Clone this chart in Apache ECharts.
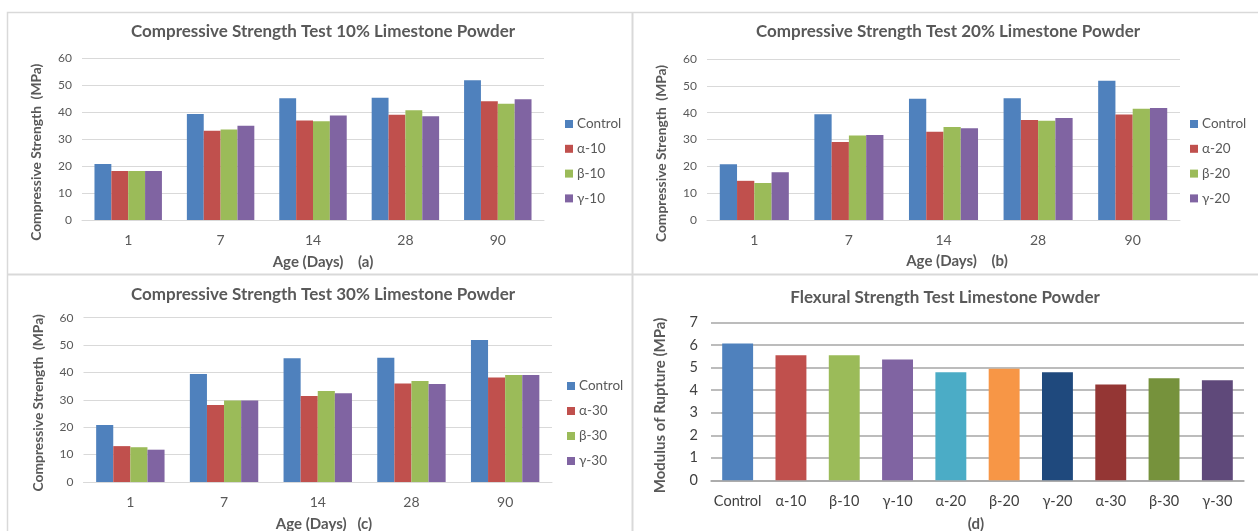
<!DOCTYPE html>
<html>
<head>
<meta charset="utf-8">
<script src="https://cdn.jsdelivr.net/npm/echarts@6/dist/echarts.min.js"></script>
<style>
html,body{margin:0;padding:0;background:#fff;}
#c{width:1258px;height:531px;}
</style>
</head>
<body>
<div id="c"></div>
<script>
// ---- data ----
const ages = ['1', '7', '14', '28', '90'];
const yTicks = [0, 10, 20, 30, 40, 50, 60];
const control = [20.8, 39.4, 45.2, 45.4, 51.9];
const a10 = [18.2, 33.2, 37.0, 39.1, 44.1];
const b10 = [18.2, 33.6, 36.7, 40.8, 43.2];
const g10 = [18.2, 35.0, 38.8, 38.5, 44.9];
const a20 = [14.6, 29.1, 32.9, 37.3, 39.3];
const b20 = [13.8, 31.5, 34.7, 37.0, 41.5];
const g20 = [17.8, 31.7, 34.2, 38.0, 41.7];
const a30 = [13.1, 28.1, 31.4, 36.0, 38.2];
const b30 = [12.7, 29.8, 33.2, 36.9, 39.1];
const g30 = [11.8, 29.8, 32.4, 35.8, 39.1];
const flexCats = ['Control', 'α-10', 'β-10', 'γ-10', 'α-20', 'β-20', 'γ-20', 'α-30', 'β-30', 'γ-30'];
const flexVals = [6.08, 5.55, 5.55, 5.37, 4.80, 4.96, 4.80, 4.26, 4.53, 4.44];
const flexTicks = [0, 1, 2, 3, 4, 5, 6, 7];

// ---- styles ----
const FONT = 'Lato, "Open Sans", sans-serif';
const TXT = '#595959';
const GRID = '#d9d9d9';
const C4 = ['#4F81BD', '#C0504D', '#9BBB59', '#8064A2'];
const flexColors = ['#4F81BD', '#C0504D', '#9BBB59', '#8064A2', '#4BACC6', '#F79646', '#1F497D', '#943634', '#76923C', '#5F497A'];

const grids = [
  {left: 82, top: 58.5, width: 462, height: 161.5},
  {left: 707, top: 59, width: 473, height: 161},
  {left: 83.5, top: 317.7, width: 468.5, height: 164.3},
  {left: 711, top: 322.7, width: 533, height: 157.6}
];

function xAx(i) {
  return {
    type: 'category', gridIndex: i, data: ages,
    axisLine: {lineStyle: {color: GRID, width: 1}},
    axisTick: {show: false},
    axisLabel: {color: TXT, fontSize: 14, fontFamily: FONT, margin: 13}
  };
}
function yAx(i, shift) {
  return {
    type: 'value', gridIndex: i, min: yTicks[0], max: yTicks[yTicks.length - 1], interval: yTicks[1] - yTicks[0],
    name: 'Compressive Strength  (MPa)', nameLocation: 'middle', nameGap: 38,
    nameTextStyle: {color: TXT, fontSize: 13.8, fontWeight: 'bold', fontFamily: FONT, padding: [0, shift, 0, 0]},
    axisLine: {show: false}, axisTick: {show: false},
    splitLine: {lineStyle: {color: GRID, width: 1}},
    axisLabel: {color: TXT, fontSize: 12, fontFamily: FONT, margin: 10}
  };
}
function barSeries(name, data, idx, color) {
  return {
    type: 'bar', name: name, data: data, xAxisIndex: idx, yAxisIndex: idx,
    barGap: '0%', barCategoryGap: '27%',
    itemStyle: {color: color}, emphasis: {disabled: true}
  };
}
function legend(names, left, top, gap) {
  return {
    orient: 'vertical', left: left, top: top, itemGap: gap, padding: 0,
    itemWidth: 8, itemHeight: 8, icon: 'rect', data: names,
    textStyle: {color: TXT, fontSize: 13.5, fontFamily: FONT, padding: [0, 0, 0, -1]}
  };
}
function title(text, cx, top, size, bold) {
  return {
    text: text, left: cx, top: top, textAlign: 'center', padding: 0,
    textStyle: {color: TXT, fontSize: size, fontWeight: bold ? 'bold' : 'normal', fontFamily: FONT}
  };
}

const option = {
  backgroundColor: '#fff',
  animation: false,
  title: [
    title('Compressive Strength Test 10% Limestone Powder', 323, 23, 17, true),
    title('Compressive Strength Test 20% Limestone Powder', 948, 23, 17, true),
    title('Compressive Strength Test 30% Limestone Powder', 323, 286, 17, true),
    title('Flexural Strength Test Limestone Powder', 945, 289, 17, true),
    title('Age (Days)    (a)', 323, 255, 15, true),
    title('Age (Days)    (b)', 957, 254, 15, true),
    title('Age (Days)   (c)', 324, 517, 15, true),
    title('(d)', 976, 517, 15, true)
  ],
  legend: [
    legend(['Control', 'α-10', 'β-10', 'γ-10'], 565, 117, 10.8),
    legend(['Control', 'α-20', 'β-20', 'γ-20'], 1190, 117, 10.8),
    legend(['Control', 'α-30', 'β-30', 'γ-30'], 567, 379, 11)
  ],
  grid: grids,
  xAxis: [xAx(0), xAx(1), xAx(2), {
    type: 'category', gridIndex: 3, data: flexCats,
    axisLine: {lineStyle: {color: '#a6a6a6', width: 1.5}},
    axisTick: {show: false},
    axisLabel: {color: '#404040', fontSize: 14.5, fontFamily: FONT, margin: 14, interval: 0}
  }],
  yAxis: [yAx(0, 26), yAx(1, 28), yAx(2, 6), {
    type: 'value', gridIndex: 3, min: flexTicks[0], max: flexTicks[flexTicks.length - 1], interval: flexTicks[1] - flexTicks[0],
    name: 'Modulus of Rupture (MPa)', nameLocation: 'middle', nameGap: 43,
    nameTextStyle: {color: TXT, fontSize: 15, fontWeight: 'bold', fontFamily: FONT, padding: [0, 8, 0, 0]},
    axisLine: {show: false}, axisTick: {show: false},
    splitLine: {lineStyle: {color: '#a6a6a6', width: 1.5}},
    axisLabel: {color: '#404040', fontSize: 14.5, fontFamily: FONT, margin: 13}
  }],
  series: [
    barSeries('Control', control, 0, C4[0]),
    barSeries('α-10', a10, 0, C4[1]),
    barSeries('β-10', b10, 0, C4[2]),
    barSeries('γ-10', g10, 0, C4[3]),
    barSeries('Control', control, 1, C4[0]),
    barSeries('α-20', a20, 1, C4[1]),
    barSeries('β-20', b20, 1, C4[2]),
    barSeries('γ-20', g20, 1, C4[3]),
    barSeries('Control', control, 2, C4[0]),
    barSeries('α-30', a30, 2, C4[1]),
    barSeries('β-30', b30, 2, C4[2]),
    barSeries('γ-30', g30, 2, C4[3]),
    {
      type: 'bar', name: 'Flexural', xAxisIndex: 3, yAxisIndex: 3,
      barCategoryGap: '42%',
      data: flexVals.map((v, i) => ({value: v, itemStyle: {color: flexColors[i]}})),
      emphasis: {disabled: true}
    }
  ],
  graphic: [
    {type: 'rect', silent: true, shape: {x: 7.5, y: 12.5, width: 1300, height: 600}, style: {fill: 'none', stroke: GRID, lineWidth: 1.5}},
    {type: 'line', silent: true, shape: {x1: 632.5, y1: 12, x2: 632.5, y2: 531}, style: {stroke: GRID, lineWidth: 2}},
    {type: 'line', silent: true, shape: {x1: 7, y1: 274.5, x2: 1258, y2: 274.5}, style: {stroke: GRID, lineWidth: 2}}
  ]
};

const chart = echarts.init(document.getElementById('c'), null, {renderer: 'canvas'});
chart.setOption(option);
</script>
</body>
</html>
